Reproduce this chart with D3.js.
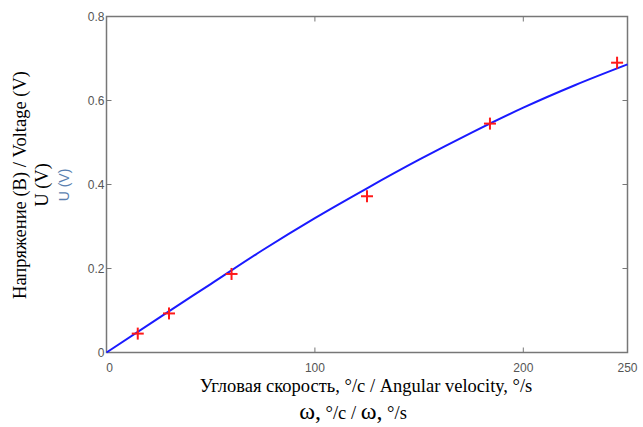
<!DOCTYPE html>
<html>
<head>
<meta charset="utf-8">
<script src="https://d3js.org/d3.v7.min.js"></script>
<style>
  body { margin: 0; background: #fff; }
  .tick-label { font-family: Arial, "Liberation Sans", sans-serif; font-size: 12px; fill: #555; }
  .axis-title { font-family: "Times New Roman", "Liberation Serif", serif; font-size: 18.5px; fill: #000; }
</style>
</head>
<body>
<div id="chart"></div>
<script>
// measured points (red crosses)
const pointX = [15, 30, 60, 125, 184, 245];
const pointY = [0.045, 0.093, 0.187, 0.372, 0.545, 0.690];

// fitted curve (blue line)
const curveX = [0, 25, 50, 75, 100, 125, 150, 175, 200, 225, 250];
const curveY = [0, 0.082, 0.163, 0.244, 0.320, 0.391, 0.459, 0.523, 0.583, 0.637, 0.686];

const xTicks = [0, 100, 200, 250];
const yTicks = [0, 0.2, 0.4, 0.6, 0.8];

const width = 643, height = 427;
const plotLeft = 106.5, plotRight = 627.5, plotTop = 16.5, plotBottom = 352.5;

const svg = d3.select("#chart").append("svg")
    .attr("width", width)
    .attr("height", height);

const x = d3.scaleLinear().domain([0, 250]).range([plotLeft, plotRight]);
const y = d3.scaleLinear().domain([0, 0.8]).range([plotBottom, plotTop]);

const axisColor = "#777";
const tickLen = 5;

// box
svg.append("rect")
    .attr("x", plotLeft).attr("y", plotTop)
    .attr("width", plotRight - plotLeft).attr("height", plotBottom - plotTop)
    .attr("fill", "none")
    .attr("stroke", axisColor)
    .attr("stroke-width", 1.5);

// inward ticks on all four sides
svg.selectAll(".xt-bottom").data(xTicks).enter().append("line")
    .attr("x1", d => x(d)).attr("x2", d => x(d))
    .attr("y1", plotBottom).attr("y2", plotBottom - tickLen)
    .attr("stroke", axisColor);
svg.selectAll(".xt-top").data(xTicks).enter().append("line")
    .attr("x1", d => x(d)).attr("x2", d => x(d))
    .attr("y1", plotTop).attr("y2", plotTop + tickLen)
    .attr("stroke", axisColor);
svg.selectAll(".yt-left").data(yTicks).enter().append("line")
    .attr("x1", plotLeft).attr("x2", plotLeft + tickLen)
    .attr("y1", d => y(d)).attr("y2", d => y(d))
    .attr("stroke", axisColor);
svg.selectAll(".yt-right").data(yTicks).enter().append("line")
    .attr("x1", plotRight).attr("x2", plotRight - tickLen)
    .attr("y1", d => y(d)).attr("y2", d => y(d))
    .attr("stroke", axisColor);

// tick labels
svg.selectAll(".xl").data(xTicks).enter().append("text")
    .attr("class", "tick-label")
    .attr("x", d => x(d) + (d === 0 ? 3 : 0))
    .attr("y", plotBottom + 19)
    .attr("text-anchor", "middle")
    .text(d => d);
svg.selectAll(".yl").data(yTicks).enter().append("text")
    .attr("class", "tick-label")
    .attr("x", plotLeft - 2)
    .attr("y", d => y(d) + 4)
    .attr("text-anchor", "end")
    .text(d => d === 0 ? "0" : d3.format(".1f")(d));

// fitted line
const line = d3.line()
    .x((d, i) => x(curveX[i]))
    .y(d => y(d))
    .curve(d3.curveMonotoneX);

svg.append("path")
    .datum(curveY)
    .attr("d", line)
    .attr("fill", "none")
    .attr("stroke", "#1a1aff")
    .attr("stroke-width", 2);

// crosses
const cs = 6;
const crosses = svg.selectAll(".pt").data(pointX).enter().append("g")
    .attr("transform", (d, i) => `translate(${x(d)},${y(pointY[i])})`);
crosses.append("line").attr("x1", -cs).attr("x2", cs).attr("y1", 0).attr("y2", 0)
    .attr("stroke", "#ff1a1a").attr("stroke-width", 2);
crosses.append("line").attr("x1", 0).attr("x2", 0).attr("y1", -cs).attr("y2", cs)
    .attr("stroke", "#ff1a1a").attr("stroke-width", 2);

// x axis titles
svg.append("text")
    .attr("class", "axis-title")
    .attr("x", 366).attr("y", 392)
    .attr("text-anchor", "middle")
    .text("Угловая скорость, °/с / Angular velocity, °/s");

const xt2 = svg.append("text")
    .attr("class", "axis-title")
    .attr("x", 353).attr("y", 419)
    .attr("text-anchor", "middle");
xt2.append("tspan").attr("font-size", 24).text("ω,");
xt2.append("tspan").text(" °/с /  ");
xt2.append("tspan").attr("font-size", 24).text("ω,");
xt2.append("tspan").text(" °/s");

// y axis titles
svg.append("text")
    .attr("class", "axis-title")
    .attr("transform", "translate(26,185) rotate(-90)")
    .attr("text-anchor", "middle")
    .text("Напряжение  (В) / Voltage (V)");
svg.append("text")
    .attr("class", "axis-title")
    .attr("transform", "translate(48,185) rotate(-90)")
    .attr("text-anchor", "middle")
    .text("U (V)");
svg.append("text")
    .attr("transform", "translate(69,185) rotate(-90)")
    .attr("text-anchor", "middle")
    .attr("font-family", "Arial, 'Liberation Sans', sans-serif")
    .attr("font-size", 14)
    .attr("fill", "#5a7fb0")
    .text("U (V)");
</script>
</body>
</html>
